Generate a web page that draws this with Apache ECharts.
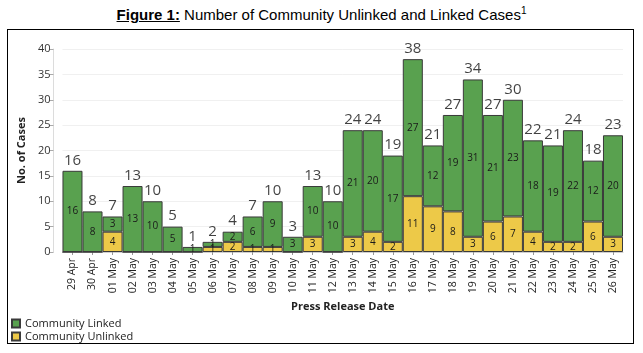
<!DOCTYPE html>
<html>
<head>
<meta charset="utf-8">
<script src="https://cdn.jsdelivr.net/npm/echarts@6/dist/echarts.min.js"></script>
<style>
  html, body { margin: 0; padding: 0; background: #fff; }
  #title {
    position: absolute; left: 0; top: 5px; width: 643px; text-align: center;
    font-family: "Liberation Sans", Arial, sans-serif; font-size: 15px; color: #000;
  }
  #title sup { font-size: 10px; }
  #chart {
    position: absolute; left: 7px; top: 29px; width: 625px; height: 313px;
    border: 1px solid #000;
  }
</style>
</head>
<body>
<div id="title"><u><b>Figure 1:</b></u> Number of Community Unlinked and Linked Cases<sup>1</sup></div>
<div id="chart"></div>
<script>
const dates = ['29 Apr', '30 Apr', '01 May', '02 May', '03 May', '04 May', '05 May', '06 May',
  '07 May', '08 May', '09 May', '10 May', '11 May', '12 May', '13 May', '14 May', '15 May',
  '16 May', '17 May', '18 May', '19 May', '20 May', '21 May', '22 May', '23 May', '24 May',
  '25 May', '26 May'];
const linked = [16, 8, 3, 13, 10, 5, 1, 1, 2, 6, 9, 3, 10, 10, 21, 20, 17, 27, 12, 19, 31, 21, 23, 18, 19, 22, 12, 20];
const unlinked = [0, 0, 4, 0, 0, 0, 0, 1, 2, 1, 1, 0, 3, 0, 3, 4, 2, 11, 9, 8, 3, 6, 7, 4, 2, 2, 6, 3];
const totals = [16, 8, 7, 13, 10, 5, 1, 2, 4, 7, 10, 3, 13, 10, 24, 24, 19, 38, 21, 27, 34, 27, 30, 22, 21, 24, 18, 23];
const yTicks = { min: 0, max: 40, interval: 5 };

const GREEN = '#59A14F';
const YELLOW = '#EDC948';
const FONT = '"Open Sans", "Noto Sans", sans-serif';

const chart = echarts.init(document.getElementById('chart'));

const innerLabel = {
  show: true,
  position: 'inside',
  fontSize: 10,
  fontFamily: FONT,
  color: '#1a1a1a',
  formatter: p => (p.value ? p.value : ''),
};

function legendRow(name, top) {
  return {
    left: 3,
    top,
    padding: 0,
    itemWidth: 8,
    itemHeight: 8,
    itemGap: 0,
    icon: 'rect',
    textStyle: { fontSize: 11, color: '#222', fontFamily: FONT },
    data: [name],
  };
}

chart.setOption({
  animation: false,
  textStyle: { fontFamily: FONT },
  grid: { left: 46, right: 10, top: 19, bottom: 91 },
  legend: [
    legendRow('Community Linked', 288),
    legendRow('Community Unlinked', 301),
  ],
  xAxis: {
    type: 'category',
    data: dates,
    name: 'Press Release Date',
    nameLocation: 'middle',
    nameGap: 44,
    nameTextStyle: { fontWeight: 'bold', fontSize: 11, color: '#222' },
    axisLine: { lineStyle: { color: '#cfcfcf' } },
    axisTick: { show: true, alignWithLabel: true, length: 3, lineStyle: { color: '#999' } },
    axisLabel: { rotate: 90, fontSize: 10.5, color: '#222', margin: 6 },
  },
  yAxis: {
    type: 'value',
    min: yTicks.min,
    max: yTicks.max,
    interval: yTicks.interval,
    offset: 9,
    name: 'No. of Cases',
    nameLocation: 'middle',
    nameGap: 25,
    nameTextStyle: { fontWeight: 'bold', fontSize: 11, color: '#222' },
    axisLine: { show: true, lineStyle: { color: '#dcdcdc' } },
    axisTick: { show: true, length: 4, lineStyle: { color: '#aaa' } },
    axisLabel: { fontSize: 11, color: '#333', margin: 3 },
    splitLine: { lineStyle: { color: '#f0f0f0' } },
  },
  series: [
    {
      name: 'Community Unlinked',
      type: 'bar',
      stack: 'cases',
      barCategoryGap: '0%',
      data: unlinked,
      itemStyle: { color: YELLOW, borderColor: '#3a3a3a', borderWidth: 1 },
      label: innerLabel,
    },
    {
      name: 'Community Linked',
      type: 'bar',
      stack: 'cases',
      barCategoryGap: '0%',
      data: linked,
      itemStyle: { color: GREEN, borderColor: '#3a3a3a', borderWidth: 1 },
      label: innerLabel,
    },
    {
      name: 'Total',
      type: 'scatter',
      data: totals,
      symbolSize: 0,
      silent: true,
      label: {
        show: true,
        position: 'top',
        distance: 3,
        fontSize: 15,
        fontFamily: FONT,
        color: '#111',
      },
    },
  ],
});
</script>
</body>
</html>
